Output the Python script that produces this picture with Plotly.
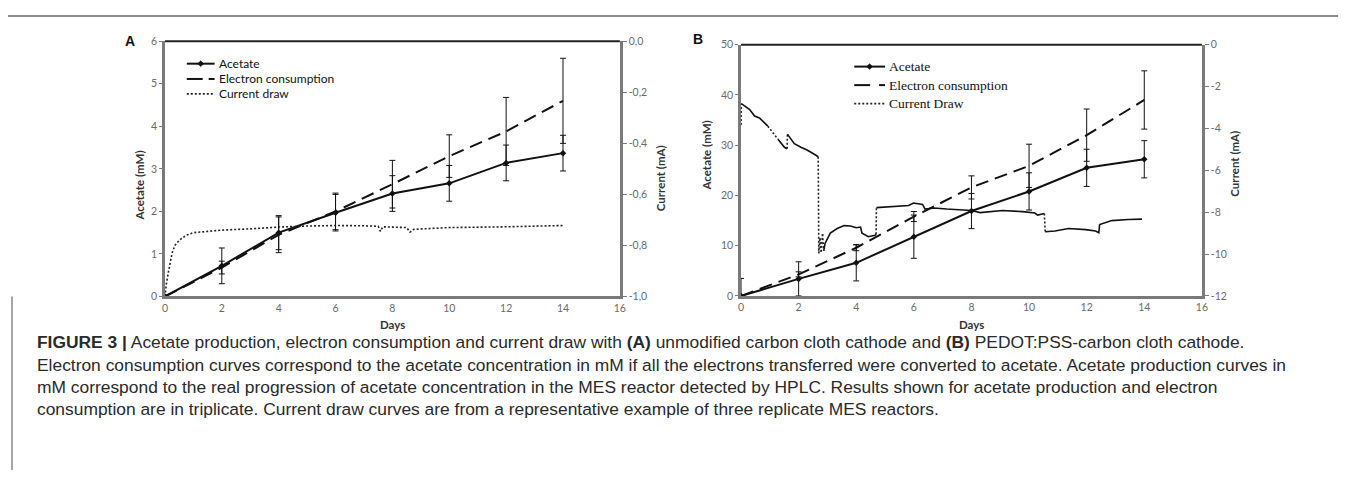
import plotly.graph_objects as go

W, H = 1346, 478
OX, OY = 8, 8          # html body margin around the plot div
FW, FH = W - 2 * OX, H - 2 * OY

# ---------------- Panel A data ----------------
days_A = [0, 2, 4, 6, 8, 10, 12, 14]
acetate_A = [0, 0.72, 1.5, 1.97, 2.42, 2.66, 3.14, 3.37]
acetate_A_err = [0, 0.42, 0.40, 0.43, 0.42, 0.42, 0.42, 0.42]
electron_A = [0, 0.68, 1.45, 2.0, 2.64, 3.3, 3.88, 4.6]
electron_A_err = [0, 0.15, 0.42, 0.43, 0.56, 0.5, 0.8, 1.0]

cur_days_A = [0, 0.05, 0.13, 0.25, 0.35, 0.5, 0.75, 1.0, 1.5, 2, 3, 4, 5, 6, 7,
              7.5, 7.58, 7.66, 8.5, 8.62, 8.75, 10, 12, 14]
cur_A = [-1.0, -0.95, -0.90, -0.83, -0.80, -0.78, -0.76, -0.75, -0.745, -0.74,
         -0.735, -0.728, -0.724, -0.722, -0.723, -0.725, -0.745, -0.727, -0.73,
         -0.748, -0.737, -0.73, -0.727, -0.722]

# ---------------- Panel B data ----------------
days_B = [0, 2, 4, 6, 8, 10, 12, 14]
acetate_B = [0, 3.4, 6.6, 11.8, 16.9, 20.8, 25.5, 27.2]
acetate_B_err = [3.5, 3.4, 3.6, 4.3, 3.5, 3.7, 3.7, 3.7]
electron_B = [0, 4.3, 9.6, 15.8, 21.6, 25.9, 32.0, 39.0]
electron_B_err = [0, 0.5, 0.6, 1.0, 2.3, 4.3, 5.2, 5.8]

cur_days_B = [0.0, 0.01, 0.3, 0.47, 0.64, 0.93, 1.28, 1.51, 1.60, 1.61, 1.85, 2.08,
              2.31, 2.60, 2.68, 2.70, 2.74, 2.78, 2.83, 2.87, 2.92, 3.1, 3.34, 3.58,
              3.8, 4.0, 4.15, 4.2, 4.42, 4.65, 4.69, 4.70, 5.3, 5.82, 5.99, 6.3,
              6.39, 6.7, 7.14, 8.0, 8.3, 9.08, 9.77, 10.2, 10.3, 10.53, 10.56,
              10.9, 11.37, 11.97, 12.31, 12.42, 12.45, 12.87, 13.44, 13.92]
cur_B = [-3.84, -2.81, -3.10, -3.41, -3.50, -3.89, -4.51, -4.90, -4.97, -4.27,
         -4.73, -4.90, -5.04, -5.28, -5.35, -9.96, -9.24, -9.89, -9.05, -9.84,
         -9.48, -9.0, -8.78, -8.64, -8.66, -8.74, -8.71, -9.0, -9.17, -9.10,
         -9.05, -7.78, -7.73, -7.68, -7.56, -7.63, -7.85, -7.80, -7.85, -7.92,
         -8.02, -7.92, -7.97, -8.04, -8.14, -8.06, -8.93, -8.90, -8.78, -8.83,
         -8.90, -8.98, -8.59, -8.40, -8.35, -8.33]

x_ticks = [0, 2, 4, 6, 8, 10, 12, 14, 16]
yA_ticks = [0, 1, 2, 3, 4, 5, 6]
yA2_ticks = [0, -0.2, -0.4, -0.6, -0.8, -1.0]
yA2_text = ["0,0", "-0,2", "-0,4", "-0,6", "-0,8", "-1,0"]
yB_ticks = [0, 10, 20, 30, 40, 50]
yB2_ticks = [0, -2, -4, -6, -8, -10, -12]
yB2_text = ["0", "-2", "-4", "-6", "-8", "-10", "-12"]

legend_A = ["Acetate", "Electron consumption", "Current draw"]
legend_B = ["Acetate", "Electron consumption", "Current Draw"]

caption_lines = [
    "<b>FIGURE 3 |</b> Acetate production, electron consumption and current draw with <b>(A)</b> unmodified carbon cloth cathode and <b>(B)</b> PEDOT:PSS-carbon cloth cathode.",
    "Electron consumption curves correspond to the acetate concentration in mM if all the electrons transferred were converted to acetate. Acetate production curves in",
    "mM correspond to the real progression of acetate concentration in the MES reactor detected by HPLC. Results shown for acetate production and electron",
    "consumption are in triplicate. Current draw curves are from a representative example of three replicate MES reactors.",
]


def px(x):
    return (x - OX) / FW


def py(y):
    return 1 - (y - OY) / FH


fig = go.Figure()

err_style = dict(type="data", visible=True, color="#111", thickness=1, width=3)
DASH = "13px,7px"

# Panel A traces
fig.add_trace(go.Scatter(x=days_A, y=acetate_A, name="Acetate", mode="lines+markers",
                         line=dict(color="#111", width=2),
                         marker=dict(symbol="diamond", size=5, color="#111"),
                         error_y=dict(array=acetate_A_err, **err_style),
                         xaxis="x", yaxis="y"))
fig.add_trace(go.Scatter(x=days_A, y=electron_A, name="Electron consumption", mode="lines",
                         line=dict(color="#111", width=2, dash=DASH),
                         error_y=dict(array=electron_A_err, **err_style),
                         xaxis="x", yaxis="y"))
fig.add_trace(go.Scatter(x=cur_days_A, y=cur_A, name="Current draw", mode="lines",
                         line=dict(color="#222", width=1.6, dash="2px,2px"),
                         xaxis="x", yaxis="y2"))

# Panel B traces
fig.add_trace(go.Scatter(x=days_B, y=acetate_B, name="Acetate", mode="lines+markers",
                         line=dict(color="#111", width=2),
                         marker=dict(symbol="diamond", size=5, color="#111"),
                         error_y=dict(array=acetate_B_err, **err_style),
                         xaxis="x3", yaxis="y3"))
fig.add_trace(go.Scatter(x=days_B, y=electron_B, name="Electron consumption", mode="lines",
                         line=dict(color="#111", width=2, dash=DASH),
                         error_y=dict(array=electron_B_err, **err_style),
                         xaxis="x3", yaxis="y3"))

# Split current B into continuous parts (solid look) and jumps (dotted)
solid_x, solid_y, jump_x, jump_y = [], [], [], []
for i in range(len(cur_days_B)):
    if i > 0 and abs(cur_B[i] - cur_B[i - 1]) > 0.6:
        jump_x += [cur_days_B[i - 1], cur_days_B[i], None]
        jump_y += [cur_B[i - 1], cur_B[i], None]
        solid_x.append(None)
        solid_y.append(None)
    solid_x.append(cur_days_B[i])
    solid_y.append(cur_B[i])

fig.add_trace(go.Scatter(x=jump_x, y=jump_y, name="Current Draw", mode="lines",
                         line=dict(color="#222", width=1.6, dash="2px,2px"),
                         xaxis="x3", yaxis="y4"))
fig.add_trace(go.Scatter(x=solid_x, y=solid_y, name="Current Draw", mode="lines",
                         line=dict(color="#111", width=1.6),
                         xaxis="x3", yaxis="y4"))

tickfont = dict(family="Lato, Open Sans, sans-serif", size=10.5, color="#6a6a6a")
axis_line = dict(showline=True, linecolor="#7a7a7a", linewidth=2.5, showgrid=False,
                 zeroline=False, tickfont=tickfont)

xA_dom = [px(163), px(621)]
yA_dom = [py(298), py(36)]
xB_dom = [px(743), px(1207)]
yB_dom = [py(297.5), py(39.5)]

fig.update_layout(
    width=FW, height=FH,
    margin=dict(l=0, r=0, t=0, b=0),
    paper_bgcolor="white", plot_bgcolor="white",
    showlegend=False,
    xaxis=dict(domain=xA_dom, range=[0, 16], tickvals=x_ticks, anchor="y", ticks="",
               **axis_line),
    yaxis=dict(domain=yA_dom, range=[0, 6], tickvals=yA_ticks, anchor="x",
               ticks="outside", ticklen=3, tickcolor="#7a7a7a", **axis_line),
    yaxis2=dict(overlaying="y", side="right", anchor="x", range=[-1, 0],
                tickvals=yA2_ticks, ticktext=yA2_text, ticks="outside", ticklen=4,
                tickcolor="#7a7a7a", **axis_line),
    xaxis3=dict(domain=xB_dom, range=[0, 16], tickvals=x_ticks, anchor="y3", ticks="",
                **axis_line),
    yaxis3=dict(domain=yB_dom, range=[0, 50], tickvals=yB_ticks, anchor="x3",
                ticks="outside", ticklen=3, tickcolor="#7a7a7a", **axis_line),
    yaxis4=dict(overlaying="y3", side="right", anchor="x3", range=[-12, 0],
                tickvals=yB2_ticks, ticktext=yB2_text, ticks="outside", ticklen=4,
                tickcolor="#7a7a7a", **axis_line),
)

shapes = []
ann = []


def hline(x0, x1, y, color="#111", width=2, dash="solid"):
    shapes.append(dict(type="line", xref="paper", yref="paper", x0=px(x0), x1=px(x1),
                       y0=py(y), y1=py(y), line=dict(color=color, width=width, dash=dash)))


def add_text(x, y, text, font, angle=0, xanchor="center"):
    ann.append(dict(x=px(x), y=py(y), xref="paper", yref="paper", text=text,
                    showarrow=False, font=font, textangle=angle, xanchor=xanchor,
                    yanchor="middle"))


def diamond(cx, cy, r=3):
    path = "M {} {} L {} {} L {} {} L {} {} Z".format(
        px(cx - r), py(cy), px(cx), py(cy - r), px(cx + r), py(cy), px(cx), py(cy + r))
    shapes.append(dict(type="path", xref="paper", yref="paper", path=path,
                       fillcolor="#111", line=dict(color="#111", width=0.5)))


# frame top lines
hline(163, 621, 36, "#222", 2)
hline(743, 1207, 39.5, "#222", 2)
# top rule
hline(0, W, 10, "#666", 1.5)
# caption left bar
shapes.append(dict(type="line", xref="paper", yref="paper", x0=px(9), x1=px(9),
                   y0=py(298), y1=py(H), line=dict(color="#888", width=1.5)))


def draw_legend(x0, x1, ys, labels, font):
    # Acetate: solid with marker
    hline(x0, x1, ys[0], "#111", 2)
    diamond((x0 + x1) / 2, ys[0])
    # Electron: long dash + short dash
    hline(x0, x0 + 16, ys[1], "#111", 2)
    hline(x1 - 6, x1, ys[1], "#111", 2)
    # Current: dotted
    hline(x0, x1, ys[2], "#222", 1.6, "2px,2px")
    for y, lab in zip(ys, labels):
        add_text(x1 + 2, y, lab, font, xanchor="left")


draw_legend(185, 213, [59, 74.7, 90], legend_A,
            dict(family="Lato, Open Sans, sans-serif", size=12, color="#111"))
draw_legend(857, 888, [62, 81, 100], legend_B,
            dict(family="Liberation Serif, Times New Roman, serif", size=13.5, color="#111"))

title_font = dict(family="Lato, Open Sans, sans-serif", size=11.5, color="#333")
add_text(137, 184, "<b>Acetate (mM)</b>", title_font, -90)
add_text(662, 177, "<b>Current (mA)</b>", title_font, -90)
add_text(392, 327, "<b>Days</b>", title_font)
add_text(708, 153, "<b>Acetate (mM)</b>", title_font, -90)
add_text(1240, 162, "<b>Current (mA)</b>", title_font, -90)
add_text(975, 327, "<b>Days</b>", title_font)

label_font = dict(family="Liberation Sans, Arial, sans-serif", size=14, color="#111")
add_text(128, 36, "<b>A</b>", label_font)
add_text(700, 34, "<b>B</b>", label_font)

cap_font = dict(family="Liberation Sans, Arial, sans-serif", size=17.4, color="#2a2a2a")
for i, line in enumerate(caption_lines):
    add_text(32, 345 + 23 * i, line, cap_font, xanchor="left")

fig.update_layout(shapes=shapes, annotations=ann)

fig.write_html("out.html")
